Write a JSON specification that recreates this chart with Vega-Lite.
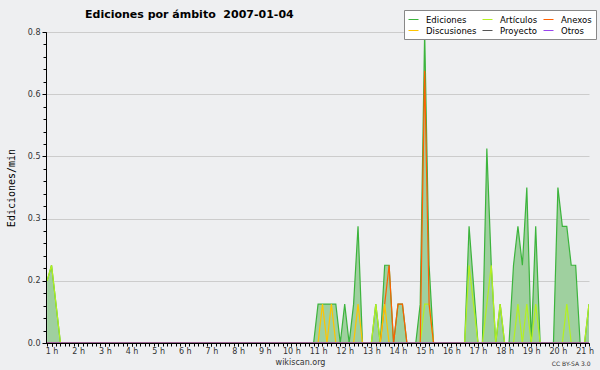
{
  "$schema": "https://vega.github.io/schema/vega-lite/v6.json",
  "width": 543,
  "height": 311,
  "autosize": {"type": "none"},
  "padding": {"left": 46, "top": 32, "right": 11, "bottom": 27},
  "background": "#eeeff1",
  "config": {"view": {"stroke": null}, "font": "DejaVu Sans"},
  "title": {"text": "Ediciones por ámbito\u00a0 2007-01-04", "anchor": "start", "frame": "group", "dx": 39, "dy": 22, "offset": 12, "font": "DejaVu Sans", "fontSize": 11, "fontWeight": "bold", "color": "#000"},
  "data": {"values": [
    {"serie": "Ediciones", "minuto": 50, "valor": 0.16},
    {"serie": "Ediciones", "minuto": 60, "valor": 0.2},
    {"serie": "Ediciones", "minuto": 70, "valor": 0.1},
    {"serie": "Ediciones", "minuto": 80, "valor": 0},
    {"serie": "Ediciones", "minuto": 90, "valor": 0},
    {"serie": "Ediciones", "minuto": 100, "valor": 0},
    {"serie": "Ediciones", "minuto": 110, "valor": 0},
    {"serie": "Ediciones", "minuto": 120, "valor": 0},
    {"serie": "Ediciones", "minuto": 130, "valor": 0},
    {"serie": "Ediciones", "minuto": 140, "valor": 0},
    {"serie": "Ediciones", "minuto": 150, "valor": 0},
    {"serie": "Ediciones", "minuto": 160, "valor": 0},
    {"serie": "Ediciones", "minuto": 170, "valor": 0},
    {"serie": "Ediciones", "minuto": 180, "valor": 0},
    {"serie": "Ediciones", "minuto": 190, "valor": 0},
    {"serie": "Ediciones", "minuto": 200, "valor": 0},
    {"serie": "Ediciones", "minuto": 210, "valor": 0},
    {"serie": "Ediciones", "minuto": 220, "valor": 0},
    {"serie": "Ediciones", "minuto": 230, "valor": 0},
    {"serie": "Ediciones", "minuto": 240, "valor": 0},
    {"serie": "Ediciones", "minuto": 250, "valor": 0},
    {"serie": "Ediciones", "minuto": 260, "valor": 0},
    {"serie": "Ediciones", "minuto": 270, "valor": 0},
    {"serie": "Ediciones", "minuto": 280, "valor": 0},
    {"serie": "Ediciones", "minuto": 290, "valor": 0},
    {"serie": "Ediciones", "minuto": 300, "valor": 0},
    {"serie": "Ediciones", "minuto": 310, "valor": 0},
    {"serie": "Ediciones", "minuto": 320, "valor": 0},
    {"serie": "Ediciones", "minuto": 330, "valor": 0},
    {"serie": "Ediciones", "minuto": 340, "valor": 0},
    {"serie": "Ediciones", "minuto": 350, "valor": 0},
    {"serie": "Ediciones", "minuto": 360, "valor": 0},
    {"serie": "Ediciones", "minuto": 370, "valor": 0},
    {"serie": "Ediciones", "minuto": 380, "valor": 0},
    {"serie": "Ediciones", "minuto": 390, "valor": 0},
    {"serie": "Ediciones", "minuto": 400, "valor": 0},
    {"serie": "Ediciones", "minuto": 410, "valor": 0},
    {"serie": "Ediciones", "minuto": 420, "valor": 0},
    {"serie": "Ediciones", "minuto": 430, "valor": 0},
    {"serie": "Ediciones", "minuto": 440, "valor": 0},
    {"serie": "Ediciones", "minuto": 450, "valor": 0},
    {"serie": "Ediciones", "minuto": 460, "valor": 0},
    {"serie": "Ediciones", "minuto": 470, "valor": 0},
    {"serie": "Ediciones", "minuto": 480, "valor": 0},
    {"serie": "Ediciones", "minuto": 490, "valor": 0},
    {"serie": "Ediciones", "minuto": 500, "valor": 0},
    {"serie": "Ediciones", "minuto": 510, "valor": 0},
    {"serie": "Ediciones", "minuto": 520, "valor": 0},
    {"serie": "Ediciones", "minuto": 530, "valor": 0},
    {"serie": "Ediciones", "minuto": 540, "valor": 0},
    {"serie": "Ediciones", "minuto": 550, "valor": 0},
    {"serie": "Ediciones", "minuto": 560, "valor": 0},
    {"serie": "Ediciones", "minuto": 570, "valor": 0},
    {"serie": "Ediciones", "minuto": 580, "valor": 0},
    {"serie": "Ediciones", "minuto": 590, "valor": 0},
    {"serie": "Ediciones", "minuto": 600, "valor": 0},
    {"serie": "Ediciones", "minuto": 610, "valor": 0},
    {"serie": "Ediciones", "minuto": 620, "valor": 0},
    {"serie": "Ediciones", "minuto": 630, "valor": 0},
    {"serie": "Ediciones", "minuto": 640, "valor": 0},
    {"serie": "Ediciones", "minuto": 650, "valor": 0},
    {"serie": "Ediciones", "minuto": 660, "valor": 0.1},
    {"serie": "Ediciones", "minuto": 670, "valor": 0.1},
    {"serie": "Ediciones", "minuto": 680, "valor": 0.1},
    {"serie": "Ediciones", "minuto": 690, "valor": 0.1},
    {"serie": "Ediciones", "minuto": 700, "valor": 0.1},
    {"serie": "Ediciones", "minuto": 710, "valor": 0},
    {"serie": "Ediciones", "minuto": 720, "valor": 0.1},
    {"serie": "Ediciones", "minuto": 730, "valor": 0},
    {"serie": "Ediciones", "minuto": 740, "valor": 0.1},
    {"serie": "Ediciones", "minuto": 750, "valor": 0.3},
    {"serie": "Ediciones", "minuto": 760, "valor": 0},
    {"serie": "Ediciones", "minuto": 770, "valor": 0},
    {"serie": "Ediciones", "minuto": 780, "valor": 0},
    {"serie": "Ediciones", "minuto": 790, "valor": 0.1},
    {"serie": "Ediciones", "minuto": 800, "valor": 0},
    {"serie": "Ediciones", "minuto": 810, "valor": 0.2},
    {"serie": "Ediciones", "minuto": 820, "valor": 0.2},
    {"serie": "Ediciones", "minuto": 830, "valor": 0},
    {"serie": "Ediciones", "minuto": 840, "valor": 0.1},
    {"serie": "Ediciones", "minuto": 850, "valor": 0.1},
    {"serie": "Ediciones", "minuto": 860, "valor": 0},
    {"serie": "Ediciones", "minuto": 870, "valor": 0},
    {"serie": "Ediciones", "minuto": 880, "valor": 0},
    {"serie": "Ediciones", "minuto": 890, "valor": 0.1},
    {"serie": "Ediciones", "minuto": 900, "valor": 0.8},
    {"serie": "Ediciones", "minuto": 910, "valor": 0.2},
    {"serie": "Ediciones", "minuto": 920, "valor": 0},
    {"serie": "Ediciones", "minuto": 930, "valor": 0},
    {"serie": "Ediciones", "minuto": 940, "valor": 0},
    {"serie": "Ediciones", "minuto": 950, "valor": 0},
    {"serie": "Ediciones", "minuto": 960, "valor": 0},
    {"serie": "Ediciones", "minuto": 970, "valor": 0},
    {"serie": "Ediciones", "minuto": 980, "valor": 0},
    {"serie": "Ediciones", "minuto": 990, "valor": 0},
    {"serie": "Ediciones", "minuto": 1000, "valor": 0.3},
    {"serie": "Ediciones", "minuto": 1010, "valor": 0.15},
    {"serie": "Ediciones", "minuto": 1020, "valor": 0},
    {"serie": "Ediciones", "minuto": 1030, "valor": 0},
    {"serie": "Ediciones", "minuto": 1040, "valor": 0.5},
    {"serie": "Ediciones", "minuto": 1050, "valor": 0.2},
    {"serie": "Ediciones", "minuto": 1060, "valor": 0},
    {"serie": "Ediciones", "minuto": 1070, "valor": 0.1},
    {"serie": "Ediciones", "minuto": 1080, "valor": 0},
    {"serie": "Ediciones", "minuto": 1090, "valor": 0},
    {"serie": "Ediciones", "minuto": 1100, "valor": 0.2},
    {"serie": "Ediciones", "minuto": 1110, "valor": 0.3},
    {"serie": "Ediciones", "minuto": 1120, "valor": 0.2},
    {"serie": "Ediciones", "minuto": 1130, "valor": 0.4},
    {"serie": "Ediciones", "minuto": 1140, "valor": 0},
    {"serie": "Ediciones", "minuto": 1150, "valor": 0.3},
    {"serie": "Ediciones", "minuto": 1160, "valor": 0},
    {"serie": "Ediciones", "minuto": 1170, "valor": 0},
    {"serie": "Ediciones", "minuto": 1180, "valor": 0},
    {"serie": "Ediciones", "minuto": 1190, "valor": 0},
    {"serie": "Ediciones", "minuto": 1200, "valor": 0.4},
    {"serie": "Ediciones", "minuto": 1210, "valor": 0.3},
    {"serie": "Ediciones", "minuto": 1220, "valor": 0.3},
    {"serie": "Ediciones", "minuto": 1230, "valor": 0.2},
    {"serie": "Ediciones", "minuto": 1240, "valor": 0.2},
    {"serie": "Ediciones", "minuto": 1250, "valor": 0},
    {"serie": "Ediciones", "minuto": 1260, "valor": 0},
    {"serie": "Ediciones", "minuto": 1270, "valor": 0.1},
    {"serie": "Artículos", "minuto": 50, "valor": 0.16},
    {"serie": "Artículos", "minuto": 60, "valor": 0.2},
    {"serie": "Artículos", "minuto": 70, "valor": 0.1},
    {"serie": "Artículos", "minuto": 80, "valor": 0},
    {"serie": "Artículos", "minuto": 780, "valor": 0},
    {"serie": "Artículos", "minuto": 790, "valor": 0.1},
    {"serie": "Artículos", "minuto": 800, "valor": 0},
    {"serie": "Artículos", "minuto": 890, "valor": 0},
    {"serie": "Artículos", "minuto": 900, "valor": 0.1},
    {"serie": "Artículos", "minuto": 910, "valor": 0.1},
    {"serie": "Artículos", "minuto": 920, "valor": 0},
    {"serie": "Artículos", "minuto": 990, "valor": 0},
    {"serie": "Artículos", "minuto": 1000, "valor": 0.2},
    {"serie": "Artículos", "minuto": 1010, "valor": 0.1},
    {"serie": "Artículos", "minuto": 1020, "valor": 0},
    {"serie": "Artículos", "minuto": 1030, "valor": 0},
    {"serie": "Artículos", "minuto": 1040, "valor": 0.1},
    {"serie": "Artículos", "minuto": 1050, "valor": 0.2},
    {"serie": "Artículos", "minuto": 1060, "valor": 0},
    {"serie": "Artículos", "minuto": 1070, "valor": 0.1},
    {"serie": "Artículos", "minuto": 1080, "valor": 0},
    {"serie": "Artículos", "minuto": 1100, "valor": 0},
    {"serie": "Artículos", "minuto": 1110, "valor": 0.1},
    {"serie": "Artículos", "minuto": 1120, "valor": 0},
    {"serie": "Artículos", "minuto": 1130, "valor": 0.1},
    {"serie": "Artículos", "minuto": 1140, "valor": 0},
    {"serie": "Artículos", "minuto": 1150, "valor": 0.1},
    {"serie": "Artículos", "minuto": 1160, "valor": 0},
    {"serie": "Artículos", "minuto": 1210, "valor": 0},
    {"serie": "Artículos", "minuto": 1220, "valor": 0.1},
    {"serie": "Artículos", "minuto": 1230, "valor": 0},
    {"serie": "Artículos", "minuto": 1260, "valor": 0},
    {"serie": "Artículos", "minuto": 1270, "valor": 0.1},
    {"serie": "Anexos", "minuto": 50, "valor": 0},
    {"serie": "Anexos", "minuto": 800, "valor": 0},
    {"serie": "Anexos", "minuto": 810, "valor": 0.1},
    {"serie": "Anexos", "minuto": 820, "valor": 0.2},
    {"serie": "Anexos", "minuto": 830, "valor": 0},
    {"serie": "Anexos", "minuto": 840, "valor": 0.1},
    {"serie": "Anexos", "minuto": 850, "valor": 0.1},
    {"serie": "Anexos", "minuto": 860, "valor": 0},
    {"serie": "Anexos", "minuto": 890, "valor": 0},
    {"serie": "Anexos", "minuto": 900, "valor": 0.7},
    {"serie": "Anexos", "minuto": 910, "valor": 0.1},
    {"serie": "Anexos", "minuto": 920, "valor": 0},
    {"serie": "Anexos", "minuto": 1270, "valor": 0},
    {"serie": "Discusiones", "minuto": 50, "valor": 0},
    {"serie": "Discusiones", "minuto": 660, "valor": 0},
    {"serie": "Discusiones", "minuto": 670, "valor": 0.1},
    {"serie": "Discusiones", "minuto": 680, "valor": 0},
    {"serie": "Discusiones", "minuto": 690, "valor": 0.1},
    {"serie": "Discusiones", "minuto": 700, "valor": 0},
    {"serie": "Discusiones", "minuto": 740, "valor": 0},
    {"serie": "Discusiones", "minuto": 750, "valor": 0.1},
    {"serie": "Discusiones", "minuto": 760, "valor": 0},
    {"serie": "Discusiones", "minuto": 800, "valor": 0},
    {"serie": "Discusiones", "minuto": 810, "valor": 0.1},
    {"serie": "Discusiones", "minuto": 820, "valor": 0},
    {"serie": "Discusiones", "minuto": 1270, "valor": 0},
    {"serie": "Proyecto", "minuto": 50, "valor": 0},
    {"serie": "Proyecto", "minuto": 1270, "valor": 0},
    {"serie": "Otros", "minuto": 50, "valor": 0},
    {"serie": "Otros", "minuto": 1270, "valor": 0}
  ]},
  "layer": [
    {
      "transform": [{"filter": "datum.serie === 'Ediciones'"}],
      "mark": {"type": "area", "color": "#9fd09f", "clip": true},
      "encoding": {
        "x": {"field": "minuto", "type": "quantitative", "scale": {"domain": [47.5, 1270], "nice": false, "zero": false},
          "axis": {"orient": "bottom", "zindex": 1, "values": [60,120,180,240,300,360,420,480,540,600,660,720,780,840,900,960,1020,1080,1140,1200,1260], "labelExpr": "datum.value / 60 + ' h'", "grid": false, "tickSize": 3, "tickColor": "#000", "domainColor": "#000", "labelFontSize": 8, "labelColor": "#333", "labelPadding": 1, "labelFlush": false, "labelOverlap": false,
            "title": "wikiscan.org", "titleFontSize": 8, "titleFontWeight": "normal", "titleColor": "#333", "titleX": 254, "titleY": 21, "titleBaseline": "alphabetic", "titleAlign": "center", "titleAnchor": null}},
        "y": {"field": "valor", "type": "quantitative", "scale": {"domain": [0, 0.8], "nice": false},
          "axis": {"orient": "left", "zindex": 0, "values": [0, 0.16, 0.32, 0.48, 0.64, 0.8], "format": ".1f", "grid": true, "gridColor": "#cccccc", "domain": false, "tickSize": 4, "tickColor": "#000", "labelFontSize": 8, "labelColor": "#333", "labelPadding": 2, "labelFlush": false,
            "title": "Ediciones/min", "titleFont": "DejaVu Sans Mono", "titleFontSize": 10, "titleFontWeight": "normal", "titleColor": "#000", "titlePadding": 11}}
      }
    },
    {
      "mark": {"type": "line", "strokeWidth": 1.2, "clip": true},
      "encoding": {
        "x": {"field": "minuto", "type": "quantitative",
          "axis": {"orient": "bottom", "zindex": 1, "values": [50,60,70,80,90,100,110,120,130,140,150,160,170,180,190,200,210,220,230,240,250,260,270,280,290,300,310,320,330,340,350,360,370,380,390,400,410,420,430,440,450,460,470,480,490,500,510,520,530,540,550,560,570,580,590,600,610,620,630,640,650,660,670,680,690,700,710,720,730,740,750,760,770,780,790,800,810,820,830,840,850,860,870,880,890,900,910,920,930,940,950,960,970,980,990,1000,1010,1020,1030,1040,1050,1060,1070,1080,1090,1100,1110,1120,1130,1140,1150,1160,1170,1180,1190,1200,1210,1220,1230,1240,1250,1260,1270], "labels": false, "grid": false, "tickSize": 3, "tickColor": "#000", "domainColor": "#000",
            "title": "CC BY-SA 3.0", "titleFontSize": 6, "titleFontWeight": "normal", "titleColor": "#333", "titleX": 544, "titleY": 22, "titleBaseline": "alphabetic", "titleAlign": "right", "titleAnchor": null}},
        "y": {"field": "valor", "type": "quantitative",
          "axis": {"orient": "left", "zindex": 1, "values": [0,0.032,0.064,0.096,0.128,0.16,0.192,0.224,0.256,0.288,0.32,0.352,0.384,0.416,0.448,0.48,0.512,0.544,0.576,0.608,0.64,0.672,0.704,0.736,0.768,0.8], "labels": false, "grid": false, "tickSize": 3, "tickColor": "#000", "domainColor": "#000", "title": null}},
        "color": {"field": "serie", "type": "nominal",
          "scale": {"domain": ["Ediciones", "Discusiones", "Artículos", "Proyecto", "Anexos", "Otros"], "range": ["#3cb43c", "#ffc400", "#b4f020", "#555555", "#ff6000", "#9944ee"]},
          "legend": {"orient": "none", "legendX": 358, "legendY": -22, "columns": 3, "title": null, "symbolType": "stroke", "symbolSize": 100, "symbolStrokeWidth": 1, "labelFontSize": 8.5, "labelFont": "DejaVu Sans", "labelColor": "#000", "fillColor": "#ffffff", "strokeColor": "#888888", "padding": 4, "rowPadding": 1, "columnPadding": 3, "labelOffset": 7}}
      }
    }
  ],
  "resolve": {"axis": {"x": "independent", "y": "independent"}}
}
